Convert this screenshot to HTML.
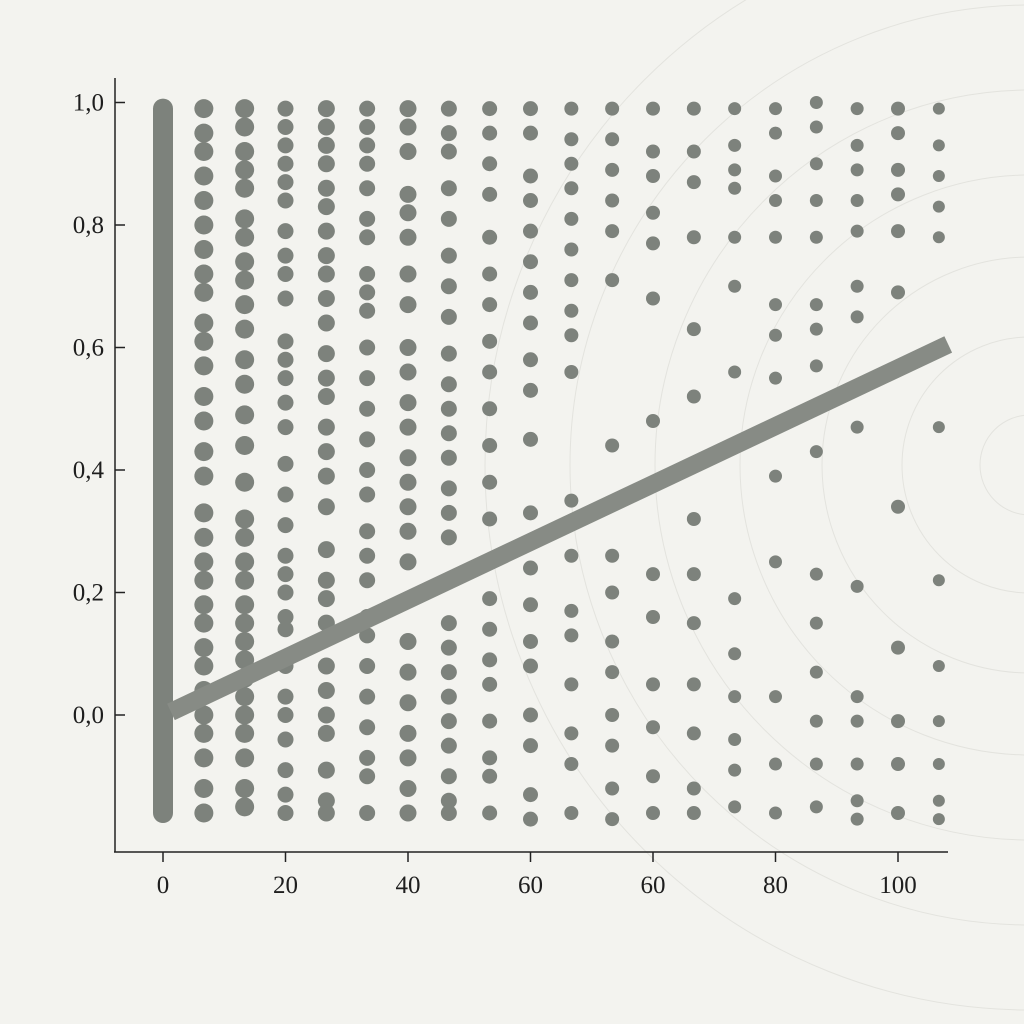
<!DOCTYPE html>
<html><head><meta charset="utf-8"><style>
html,body{margin:0;padding:0;background:#f3f3ef;overflow:hidden;width:1024px;height:1024px;}
svg{display:block;}
text{font-family:"Liberation Serif",serif;fill:#1e1e1e;}
</style></head><body>
<svg id="chart" width="1024" height="1024" viewBox="0 0 1024 1024" xmlns="http://www.w3.org/2000/svg">
<rect width="1024" height="1024" fill="#f3f3ef"/>
<g id="rings"></g>
<g id="marks"></g>
<g id="axes"></g>
</svg>
<script>
const xTickValues = [0, 20, 40, 60, 80, 100, 120];
const xTickLabels = ["0", "20", "40", "60", "60", "80", "100"];
const yTickValues = [1.0, 0.8, 0.6, 0.4, 0.2, 0.0];
const yTickLabels = ["1,0", "0,8", "0,6", "0,4", "0,2", "0,0"];
const columnX = [6.67, 13.33, 20, 26.67, 33.33, 40, 46.67, 53.33, 60, 66.67, 73.33, 80, 86.67, 93.33, 100, 106.67, 113.33, 120, 126.67];
const columnDotSize = [9.5, 9.5, 8, 8.5, 8, 8.5, 8, 7.5, 7.5, 7, 7, 7, 7, 6.5, 6.5, 6.5, 6.5, 7, 6];
const col1 = [0.99,0.95,0.92,0.88,0.84,0.80,0.76,0.72,0.69,0.64,0.61,0.57,0.52,0.48,0.43,0.39,0.33,0.29,0.25,0.22,0.18,0.15,0.11,0.08,0.04,0.00,-0.03,-0.07,-0.12,-0.16];
const col2 = [0.99,0.96,0.92,0.89,0.86,0.81,0.78,0.74,0.71,0.67,0.63,0.58,0.54,0.49,0.44,0.38,0.32,0.29,0.25,0.22,0.18,0.15,0.12,0.09,0.06,0.03,0.00,-0.03,-0.07,-0.12,-0.15];
const col3 = [0.99,0.96,0.93,0.90,0.87,0.84,0.79,0.75,0.72,0.68,0.61,0.58,0.55,0.51,0.47,0.41,0.36,0.31,0.26,0.23,0.20,0.16,0.14,0.08,0.03,0.00,-0.04,-0.09,-0.13,-0.16];
const col4 = [0.99,0.96,0.93,0.90,0.86,0.83,0.79,0.75,0.72,0.68,0.64,0.59,0.55,0.52,0.47,0.43,0.39,0.34,0.27,0.22,0.19,0.15,0.08,0.04,0.00,-0.03,-0.09,-0.14,-0.16];
const col5 = [0.99,0.96,0.93,0.90,0.86,0.81,0.78,0.72,0.69,0.66,0.60,0.55,0.50,0.45,0.40,0.36,0.30,0.26,0.22,0.16,0.13,0.08,0.03,-0.02,-0.07,-0.10,-0.16];
const col6 = [0.99,0.96,0.92,0.85,0.82,0.78,0.72,0.67,0.60,0.56,0.51,0.47,0.42,0.38,0.34,0.30,0.25,0.12,0.07,0.02,-0.03,-0.07,-0.12,-0.16];
const col7 = [0.99,0.95,0.92,0.86,0.81,0.75,0.70,0.65,0.59,0.54,0.50,0.46,0.42,0.37,0.33,0.29,0.15,0.11,0.07,0.03,-0.01,-0.05,-0.10,-0.14,-0.16];
const col8 = [0.99,0.95,0.90,0.85,0.78,0.72,0.67,0.61,0.56,0.50,0.44,0.38,0.32,0.19,0.14,0.09,0.05,-0.01,-0.07,-0.10,-0.16];
const col9 = [0.99,0.95,0.88,0.84,0.79,0.74,0.69,0.64,0.58,0.53,0.45,0.33,0.24,0.18,0.12,0.08,0.00,-0.05,-0.13,-0.17];
const col10 = [0.99,0.94,0.90,0.86,0.81,0.76,0.71,0.66,0.62,0.56,0.35,0.26,0.17,0.13,0.05,-0.03,-0.08,-0.16];
const col11 = [0.99,0.94,0.89,0.84,0.79,0.71,0.44,0.26,0.20,0.12,0.07,0.00,-0.05,-0.12,-0.17];
const col12 = [0.99,0.92,0.88,0.82,0.77,0.68,0.48,0.23,0.16,0.05,-0.02,-0.10,-0.16];
const col13 = [0.99,0.92,0.87,0.78,0.63,0.52,0.32,0.23,0.15,0.05,-0.03,-0.12,-0.16];
const col14 = [0.99,0.93,0.89,0.86,0.78,0.70,0.56,0.19,0.10,0.03,-0.04,-0.09,-0.15];
const col15 = [0.99,0.95,0.88,0.84,0.78,0.67,0.62,0.55,0.39,0.25,0.03,-0.08,-0.16];
const col16 = [1.00,0.96,0.90,0.84,0.78,0.67,0.63,0.57,0.43,0.23,0.15,0.07,-0.01,-0.08,-0.15];
const col17 = [0.99,0.93,0.89,0.84,0.79,0.70,0.65,0.47,0.21,0.03,-0.01,-0.08,-0.14,-0.17];
const col18 = [0.99,0.95,0.89,0.85,0.79,0.69,0.34,0.11,-0.01,-0.08,-0.16];
const col19 = [0.99,0.93,0.88,0.83,0.78,0.47,0.22,0.08,-0.01,-0.08,-0.14,-0.17];
const columns = [col1,col2,col3,col4,col5,col6,col7,col8,col9,col10,col11,col12,col13,col14,col15,col16,col17,col18,col19];
const barX = [0];
const barRange = [0.99, -0.16];
const fitStart = [1.3, 0.005];
const fitEnd = [128.2, 0.605];

const NS = "http://www.w3.org/2000/svg";
const X0 = 163, XS = 6.125, Y0 = 715, YS = 612.5;
function sx(v){ return X0 + v * XS; }
function sy(v){ return Y0 - v * YS; }
function mk(tag, attrs, parent){
  const e = document.createElementNS(NS, tag);
  for (const k in attrs) e.setAttribute(k, attrs[k]);
  parent.appendChild(e);
  return e;
}
const DOT = "#7d827c";
const rings = document.getElementById("rings");
const marks = document.getElementById("marks");
const axes = document.getElementById("axes");

[50,128,208,290,375,460,545].forEach(r => {
  const c = mk("circle", {cx:1030, cy:465, r:r, fill:"none", stroke:"#e3e3de", "stroke-width":1}, rings);
  
  
});

const bar = mk("line", {x1:sx(barX[0]), x2:sx(barX[0]), y1:sy(barRange[0]), y2:sy(barRange[1]), stroke:DOT, "stroke-width":20, "stroke-linecap":"round"}, marks);



columns.forEach((col, i) => {
  col.forEach(v => {
    const c = mk("circle", {cx:sx(columnX[i]), cy:sy(v), r:columnDotSize[i], fill:DOT}, marks);
    
    
  });
});

const fit = mk("line", {x1:sx(fitStart[0]), y1:sy(fitStart[1]), x2:sx(fitEnd[0]), y2:sy(fitEnd[1]), stroke:"#878b85", "stroke-width":18}, marks);



const ya = mk("line", {x1:115, y1:78, x2:115, y2:852, stroke:"#222", "stroke-width":1.5}, axes);


const xa = mk("line", {x1:114, y1:852, x2:948, y2:852, stroke:"#222", "stroke-width":1.5}, axes);



yTickValues.forEach((v, i) => {
  const t = mk("line", {x1:115, x2:125, y1:sy(v), y2:sy(v), stroke:"#222", "stroke-width":1.5}, axes);
  
  
  const l = mk("text", {x:104, y:sy(v)+8, "text-anchor":"end", "font-size":25}, axes);
  l.textContent = yTickLabels[i];
  
  
});
xTickValues.forEach((v, i) => {
  const t = mk("line", {x1:sx(v), x2:sx(v), y1:852, y2:862, stroke:"#222", "stroke-width":1.5}, axes);
  
  
  const l = mk("text", {x:sx(v), y:893, "text-anchor":"middle", "font-size":25}, axes);
  l.textContent = xTickLabels[i];
  
  
});
</script>
</body></html>
